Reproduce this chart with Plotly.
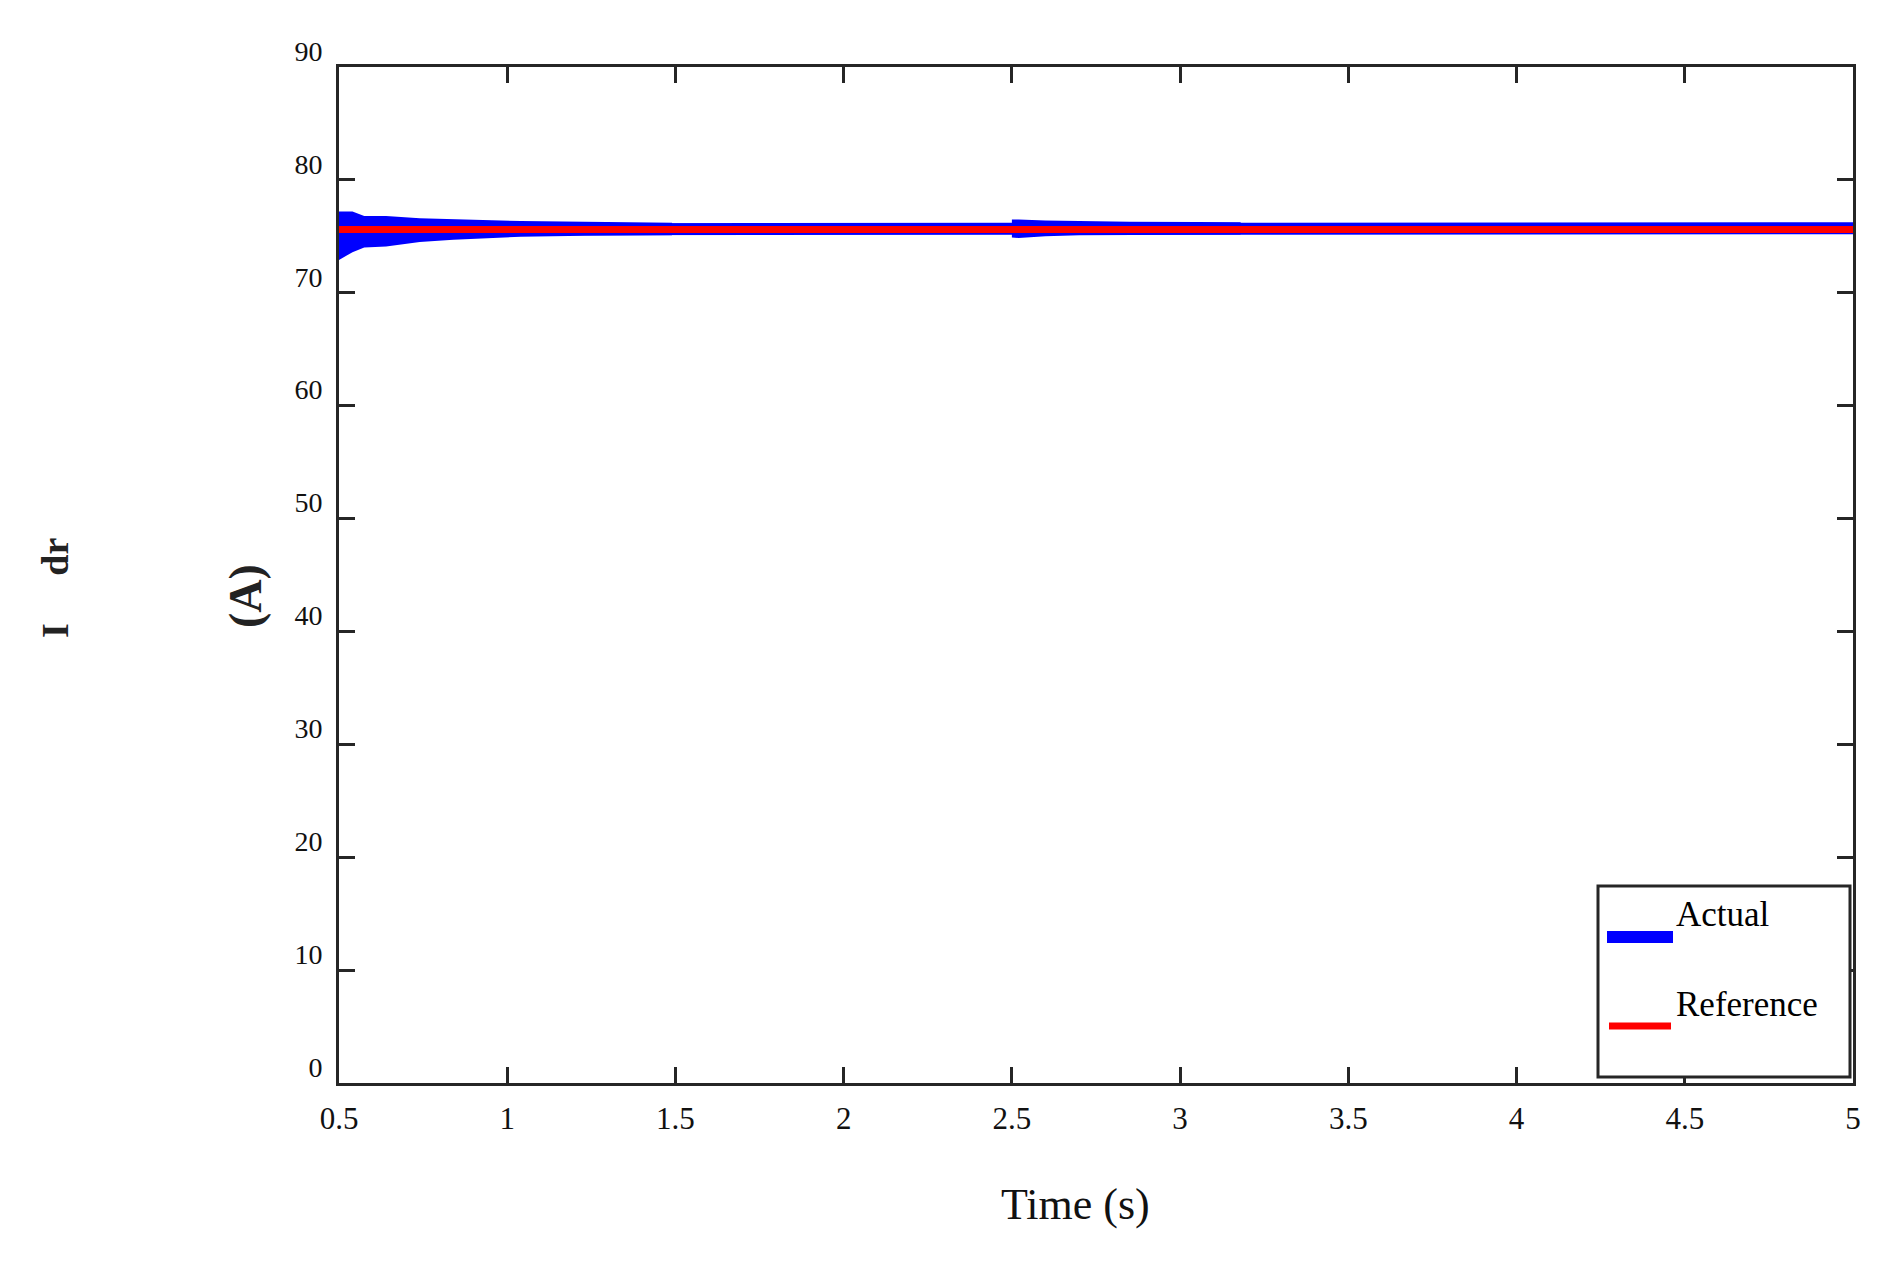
"""Rotor d-axis current: actual vs reference"""

import plotly.graph_objects as go

# main traces (time in s, current in A)
actual_t = [0.5, 2.5, 2.52, 5.0]
actual_i = [75.62, 75.62, 75.72, 75.72]

ref_t = [0.5, 5.0]
ref_i = [75.6, 75.6]

# oscillation envelope after start-up
burst1_t = [0.50, 0.54, 0.575, 0.64, 0.74, 0.84, 1.04, 1.23, 1.46, 1.49]
burst1_hi = [77.2, 77.2, 76.8, 76.8, 76.6, 76.5, 76.35, 76.3, 76.2, 76.2]
burst1_lo = [72.9, 73.6, 74.0, 74.1, 74.5, 74.7, 74.96, 75.05, 75.1, 75.1]

# oscillation envelope after the step at 2.5 s
burst2_t = [2.50, 2.52, 2.60, 2.70, 2.85, 3.05, 3.18]
burst2_hi = [76.5, 76.5, 76.4, 76.35, 76.3, 76.27, 76.25]
burst2_lo = [74.9, 74.85, 75.0, 75.1, 75.12, 75.15, 75.17]

x_ticks = [0.5, 1, 1.5, 2, 2.5, 3, 3.5, 4, 4.5, 5]
x_labels = ["0.5", "1", "1.5", "2", "2.5", "3", "3.5", "4", "4.5", "5"]
y_ticks = [0, 10, 20, 30, 40, 50, 60, 70, 80, 90]
y_labels = [str(v) for v in y_ticks]

BLUE = "#0000ff"
RED = "#ff0000"
AXIS = "#262626"
FONT = "Liberation Serif"

# plot area position on the page (px), page body adds an 8px offset
LEFT, RIGHT, TOP, BOTTOM = 339, 1853, 67, 1083
W, H = RIGHT - LEFT, BOTTOM - TOP


def px(x):
    return (x - LEFT) / W


def py(y):
    return (BOTTOM - y) / H


fig = go.Figure()

# envelope bands drawn as closed polygons
for bt, hi, lo in ((burst1_t, burst1_hi, burst1_lo), (burst2_t, burst2_hi, burst2_lo)):
    fig.add_trace(go.Scatter(
        x=bt + bt[::-1],
        y=hi + lo[::-1],
        fill="toself",
        fillcolor=BLUE,
        mode="lines",
        line=dict(width=0, color=BLUE),
        showlegend=False,
        hoverinfo="skip",
    ))

fig.add_trace(go.Scatter(x=actual_t, y=actual_i, mode="lines",
                         line=dict(color=BLUE, width=12), name="Actual", showlegend=False))
fig.add_trace(go.Scatter(x=ref_t, y=ref_i, mode="lines",
                         line=dict(color=RED, width=7), name="Reference", showlegend=False))

fig.update_xaxes(
    range=[0.5, 5], tickvals=x_ticks, ticktext=x_labels,
    showline=True, linecolor=AXIS, linewidth=3, mirror="ticks",
    ticks="inside", ticklen=16, tickwidth=3, tickcolor=AXIS,
    showgrid=False, zeroline=False,
    tickfont=dict(family=FONT, size=31, color="#111111"),
    ticklabelstandoff=6,
)
fig.update_yaxes(
    range=[0, 90], tickvals=y_ticks, ticktext=y_labels,
    showline=True, linecolor=AXIS, linewidth=3, mirror="ticks",
    ticks="inside", ticklen=16, tickwidth=3, tickcolor=AXIS,
    showgrid=False, zeroline=False,
    tickfont=dict(family=FONT, size=28, color="#111111"),
    ticklabelstandoff=8, ticklabelshift=-16,
)

# legend drawn by hand to match the original layout
fig.add_shape(type="rect", xref="paper", yref="paper", x0=px(1598), x1=px(1850), y0=py(1077), y1=py(886),
              line=dict(color=AXIS, width=3), fillcolor="white", layer="above")
fig.add_shape(type="line", xref="paper", yref="paper", x0=px(1607), x1=px(1673), y0=py(937), y1=py(937),
              line=dict(color=BLUE, width=12), layer="above")
fig.add_shape(type="line", xref="paper", yref="paper", x0=px(1609), x1=px(1671), y0=py(1026), y1=py(1026),
              line=dict(color=RED, width=7), layer="above")

annotations = [
    dict(xref="paper", yref="paper", x=px(1674), y=py(914), xanchor="left", yanchor="middle",
         text="Actual", showarrow=False, font=dict(family=FONT, size=35, color="black")),
    dict(xref="paper", yref="paper", x=px(1674), y=py(1004), xanchor="left", yanchor="middle",
         text="Reference", showarrow=False, font=dict(family=FONT, size=35, color="black")),
    # x-axis title
    dict(xref="paper", yref="paper", x=px(1075), y=py(1204), xanchor="center", yanchor="middle",
         text="Time (s)", showarrow=False, font=dict(family=FONT, size=44, color="#111111")),
    # y-axis label split in two pieces as in the original
    dict(xref="paper", yref="paper", x=px(55), y=py(588),
         xanchor="center", yanchor="middle", textangle=-90,
         text="<b>I     dr</b>", showarrow=False, font=dict(family=FONT, size=38, color="#222222")),
    dict(xref="paper", yref="paper", x=px(245), y=py(596),
         xanchor="center", yanchor="middle", textangle=-90,
         text="<b>(A)</b>", showarrow=False, font=dict(family=FONT, size=46, color="#222222")),
]

fig.update_layout(
    width=1902, height=1268,
    margin=dict(l=LEFT - 8, r=1902 - RIGHT + 8, t=TOP - 8, b=1268 - BOTTOM + 8),
    plot_bgcolor="white", paper_bgcolor="white",
    annotations=annotations,
    showlegend=False,
)

fig.write_html("out.html")
